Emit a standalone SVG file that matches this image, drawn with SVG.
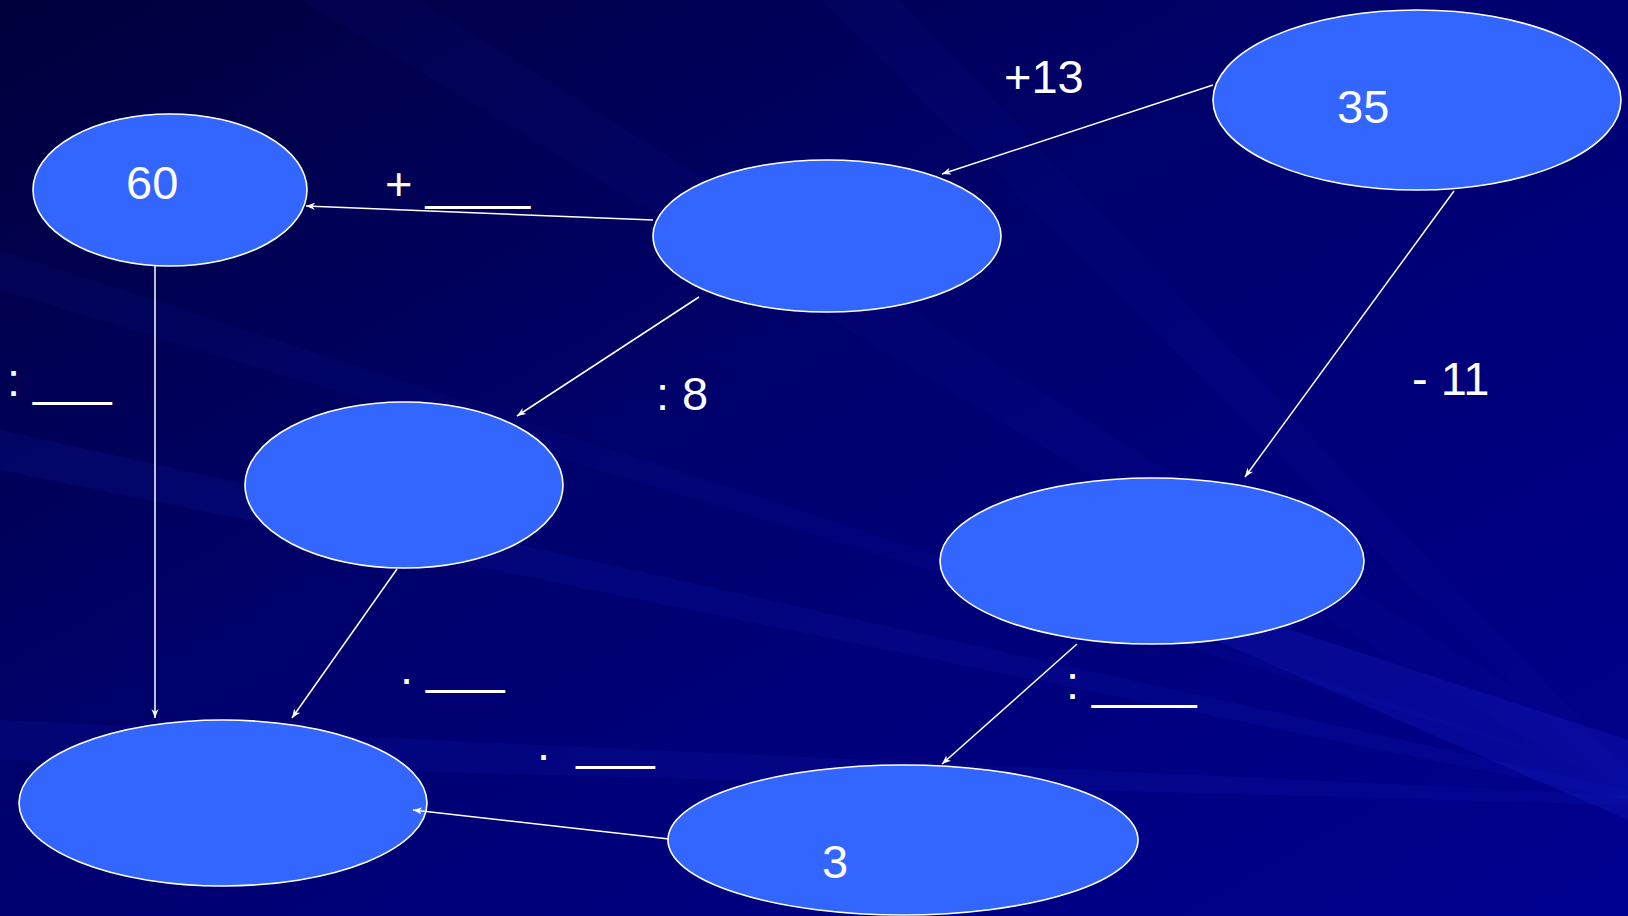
<svg xmlns="http://www.w3.org/2000/svg" width="1628" height="916" viewBox="0 0 1628 916">
<style>
.node{fill:#3366ff;stroke:#ffffff;stroke-width:1.6}
.t{font-family:"Liberation Sans",Arial,sans-serif;font-size:47px;fill:#ffffff;white-space:pre}
.c{stroke:#ffffff;stroke-width:1.5;fill:none;marker-end:url(#ah)}
</style>
<defs>
<marker id="ah" viewBox="0 0 10 10" refX="10" refY="5" markerWidth="9" markerHeight="9" markerUnits="userSpaceOnUse" orient="auto">
<path d="M0,1 L10,5 L0,9 L3,5 Z" fill="#ffffff"/>
</marker>
<linearGradient id="bg" x1="0" y1="0" x2="1" y2="1">
<stop offset="0" stop-color="#00003c"/>
<stop offset="0.45" stop-color="#00006e"/>
<stop offset="1" stop-color="#000090"/>
</linearGradient>
</defs>
<rect width="1628" height="916" fill="url(#bg)"/>
<g id="rays" fill="#1a2ad0">
<polygon points="1628,790 0,430 0,470 1628,800" opacity="0.12"/>
<polygon points="1628,780 0,250 0,290" opacity="0.07"/>
<polygon points="1628,800 1628,760 420,0 300,0" opacity="0.06"/>
<polygon points="1628,800 1628,770 900,0 820,0" opacity="0.06"/>
<polygon points="1628,795 0,720 0,760 1628,805" opacity="0.12"/>
<polygon points="1628,820 1628,740 1200,600 1100,590" opacity="0.22"/>
</g>
<g id="n35"><ellipse class="node" cx="1417" cy="100" rx="204" ry="90"/><text class="t" x="1337" y="123">35</text></g>
<g id="n60"><ellipse class="node" cx="170" cy="190" rx="137" ry="76"/><text class="t" x="126" y="199">60</text></g>
<g id="nMidTop"><ellipse class="node" cx="827" cy="236" rx="174" ry="76"/></g>
<g id="nMidLeft"><ellipse class="node" cx="404" cy="485" rx="159" ry="83"/></g>
<g id="nRight"><ellipse class="node" cx="1152" cy="561" rx="212" ry="83"/></g>
<g id="nBottomLeft"><ellipse class="node" cx="223" cy="803" rx="204" ry="83"/></g>
<g id="n3"><ellipse class="node" cx="903" cy="840" rx="235" ry="75"/><text class="t" x="822" y="878">3</text></g>
<g id="connectors">
<line class="c" x1="1213" y1="85" x2="942" y2="174"/>
<line class="c" x1="653" y1="220" x2="306" y2="206"/>
<line class="c" x1="699" y1="297" x2="517" y2="416"/>
<line class="c" x1="1454" y1="191" x2="1245" y2="477"/>
<line class="c" x1="155" y1="266" x2="155" y2="718"/>
<line class="c" x1="397" y1="569" x2="292" y2="718"/>
<line class="c" x1="1077" y1="644" x2="942" y2="764"/>
<line class="c" x1="669" y1="839" x2="413" y2="810"/>
</g>
<g id="labels">
<text class="t" x="1004" y="93">+13</text>
<text class="t" x="385" y="200">+ ____</text>
<text class="t" x="656" y="410">: 8</text>
<text class="t" x="1412" y="395">- 11</text>
<text class="t" x="7" y="396">: ___</text>
<text class="t" x="400" y="684">. ___</text>
<text class="t" x="537" y="760">.  ___</text>
<text class="t" x="1066" y="699">: ____</text>
</g>
</svg>
